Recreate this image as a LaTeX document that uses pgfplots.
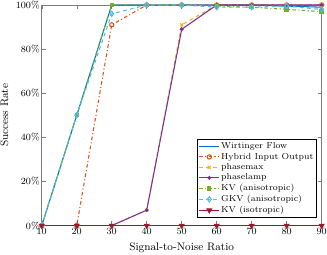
\documentclass[border=0pt]{standalone}
\usepackage{pgfplots}
\pgfplotsset{compat=1.18}
\definecolor{c1}{rgb}{0,0.447,0.741}
\definecolor{c2}{rgb}{0.85,0.325,0.098}
\definecolor{c3}{rgb}{0.929,0.694,0.125}
\definecolor{c4}{rgb}{0.494,0.184,0.556}
\definecolor{c5}{rgb}{0.466,0.674,0.188}
\definecolor{c6}{rgb}{0.301,0.745,0.933}
\definecolor{c7}{rgb}{0.635,0.078,0.184}
\definecolor{axc}{rgb}{0.15,0.15,0.15}
\begin{document}
\begin{tikzpicture}
\begin{axis}[
  name=main,
  scale only axis,
  width=236pt, height=186pt,
  xmin=10, xmax=90, ymin=0, ymax=100,
  xtick={10,20,...,90},
  ytick={0,20,...,100},
  yticklabel={\pgfmathprintnumber{\tick}\%},
  xlabel={Signal-to-Noise Ratio},
  ylabel={Success Rate},
  tick align=inside,
  axis line style={axc!60, line width=0.5pt},
  every tick/.style={axc!60},
  major tick length=3.5pt,
  tick label style={font=\fontsize{8.3}{9}\selectfont},
  yticklabel style={inner xsep=1.5pt},
  xticklabel style={inner ysep=2.3pt},
  label style={font=\fontsize{9.2}{10}\selectfont},
  xlabel style={at={(axis description cs:0.5,-0.099)}, anchor=center},
  ylabel style={at={(axis description cs:-0.133,0.5)}, anchor=center},
  legend cell align=left,
  legend style={at={(rel axis cs:0.982,0.036)}, anchor=south east, font=\fontsize{7.3}{8.5}\selectfont, draw=black, line width=0.4pt, inner sep=1.5pt, row sep=0pt, nodes={inner xsep=1pt, inner ysep=1.1pt}},
  every axis plot/.append style={line width=0.9pt},
]
\addplot[c1, solid] coordinates {(10,0) (20,50) (30,100) (40,100) (50,100) (60,100) (70,100) (80,99.5) (90,99)};
\addlegendentry{Wirtinger Flow}
\addplot[c2, dash dot, mark=o, mark size=1.8pt, mark options={solid}] coordinates {(10,0) (20,0) (30,91) (40,100) (50,100) (60,100) (70,100) (80,100) (90,100)};
\addlegendentry{Hybrid Input Output}
\addplot[c3, dashed, mark=x, mark size=1.8pt, mark options={solid}] coordinates {(10,0) (20,0) (30,0) (40,7) (50,91) (60,100) (70,100) (80,100) (90,100)};
\addlegendentry{phasemax}
\addplot[c4, solid, mark=*, mark size=1.1pt] coordinates {(10,0) (20,0) (30,0) (40,7) (50,89) (60,100) (70,100) (80,100) (90,100)};
\addlegendentry{phaselamp}
\addplot[c5, dash dot, mark=square*, mark size=1.4pt, mark options={solid}] coordinates {(10,0) (20,50) (30,100) (40,100) (50,100) (60,99.5) (70,99) (80,98) (90,97)};
\addlegendentry{KV (anisotropic)}
\addplot[c6, dashed, mark=diamond, mark size=2.2pt, mark options={solid}] coordinates {(10,0) (20,50) (30,96) (40,100) (50,100) (60,99) (70,99) (80,99.5) (90,98)};
\addlegendentry{GKV (anisotropic)}
\addplot[c7, solid, mark=triangle*, mark size=2.2pt, mark options={rotate=180}] coordinates {(10,0) (20,0) (30,0) (40,0) (50,0) (60,0) (70,0) (80,0) (90,0)};
\addlegendentry{KV (isotropic)}
\end{axis}
\pgfresetboundingbox
\path ([shift={(-35.2pt,-24.7pt)}]main.south west) rectangle ([shift={(4.5pt,4.2pt)}]main.north east);
\end{tikzpicture}
\end{document}
